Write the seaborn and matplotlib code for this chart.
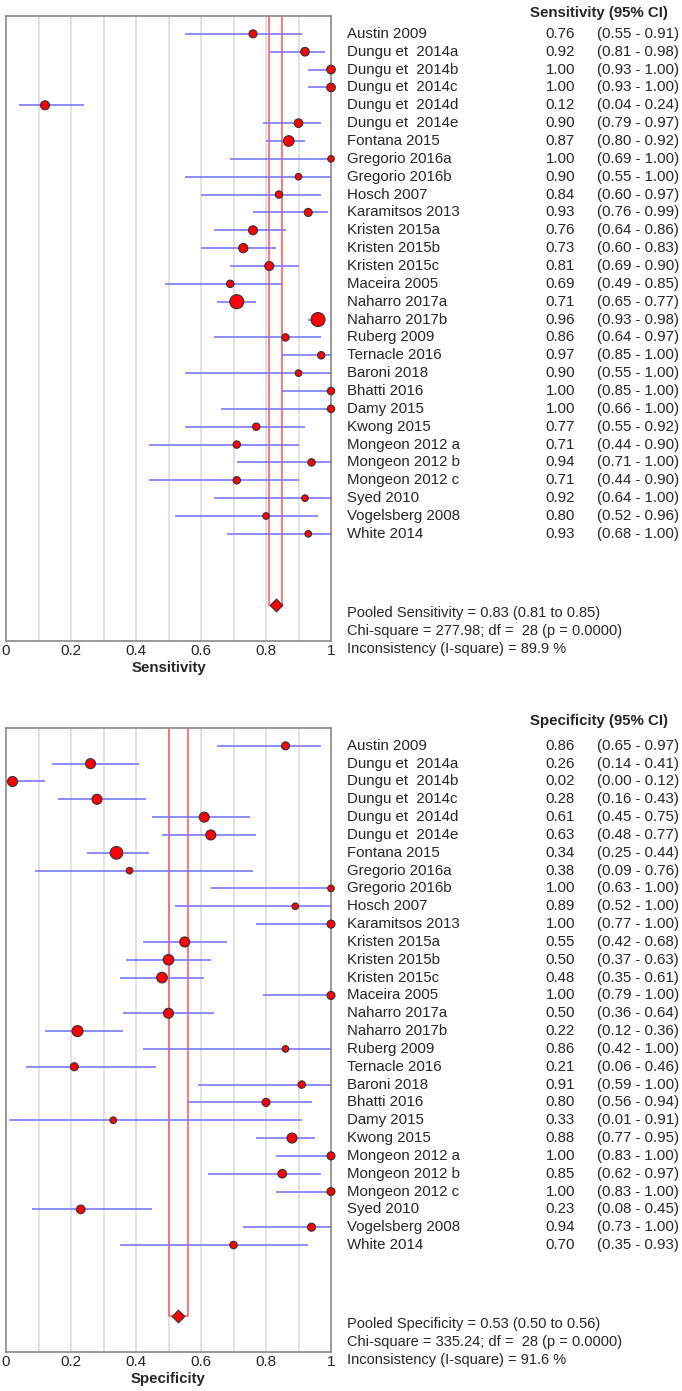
import numpy as np
import pandas as pd
import matplotlib
matplotlib.use("Agg")
import matplotlib.pyplot as plt
import matplotlib.transforms as mtransforms
import seaborn as sns

studies = ["Austin 2009", "Dungu et  2014a", "Dungu et  2014b", "Dungu et  2014c",
           "Dungu et  2014d", "Dungu et  2014e", "Fontana 2015", "Gregorio 2016a",
           "Gregorio 2016b", "Hosch 2007", "Karamitsos 2013", "Kristen 2015a",
           "Kristen 2015b", "Kristen 2015c", "Maceira 2005", "Naharro 2017a",
           "Naharro 2017b", "Ruberg 2009", "Ternacle 2016", "Baroni 2018",
           "Bhatti 2016", "Damy 2015", "Kwong 2015", "Mongeon 2012 a",
           "Mongeon 2012 b", "Mongeon 2012 c", "Syed 2010", "Vogelsberg 2008",
           "White 2014"]

sens = [0.76, 0.92, 1.00, 1.00, 0.12, 0.90, 0.87, 1.00, 0.90, 0.84, 0.93, 0.76, 0.73,
        0.81, 0.69, 0.71, 0.96, 0.86, 0.97, 0.90, 1.00, 1.00, 0.77, 0.71, 0.94, 0.71,
        0.92, 0.80, 0.93]
sens_lo = [0.55, 0.81, 0.93, 0.93, 0.04, 0.79, 0.80, 0.69, 0.55, 0.60, 0.76, 0.64, 0.60,
           0.69, 0.49, 0.65, 0.93, 0.64, 0.85, 0.55, 0.85, 0.66, 0.55, 0.44, 0.71, 0.44,
           0.64, 0.52, 0.68]
sens_hi = [0.91, 0.98, 1.00, 1.00, 0.24, 0.97, 0.92, 1.00, 1.00, 0.97, 0.99, 0.86, 0.83,
           0.90, 0.85, 0.77, 0.98, 0.97, 1.00, 1.00, 1.00, 1.00, 0.92, 0.90, 1.00, 0.90,
           1.00, 0.96, 1.00]
sens_w = [4.0, 4.3, 4.3, 4.3, 4.5, 4.3, 5.3, 3.3, 3.3, 3.7, 4.0, 4.5, 4.6, 4.5, 3.7, 7.0,
          7.0, 3.7, 3.7, 3.3, 3.7, 3.7, 3.7, 3.7, 3.7, 3.7, 3.3, 3.3, 3.3]

spec = [0.86, 0.26, 0.02, 0.28, 0.61, 0.63, 0.34, 0.38, 1.00, 0.89, 1.00, 0.55, 0.50,
        0.48, 1.00, 0.50, 0.22, 0.86, 0.21, 0.91, 0.80, 0.33, 0.88, 1.00, 0.85, 1.00,
        0.23, 0.94, 0.70]
spec_lo = [0.65, 0.14, 0.00, 0.16, 0.45, 0.48, 0.25, 0.09, 0.63, 0.52, 0.77, 0.42, 0.37,
           0.35, 0.79, 0.36, 0.12, 0.42, 0.06, 0.59, 0.56, 0.01, 0.77, 0.83, 0.62, 0.83,
           0.08, 0.73, 0.35]
spec_hi = [0.97, 0.41, 0.12, 0.43, 0.75, 0.77, 0.44, 0.76, 1.00, 1.00, 1.00, 0.68, 0.63,
           0.61, 1.00, 0.64, 0.36, 1.00, 0.46, 1.00, 0.94, 0.91, 0.95, 1.00, 0.97, 1.00,
           0.45, 1.00, 0.93]
spec_w = [4.0, 5.0, 5.0, 5.0, 5.0, 5.0, 6.3, 3.3, 3.3, 3.3, 4.0, 5.0, 5.3, 5.3, 4.0, 5.0,
          5.5, 3.3, 4.0, 3.7, 4.0, 3.3, 5.0, 4.0, 4.3, 4.0, 4.3, 4.0, 3.7]

pooled_sens = [0.83, 0.81, 0.85]
pooled_spec = [0.53, 0.50, 0.56]
stats_sens = ["Pooled Sensitivity = 0.83 (0.81 to 0.85)",
              "Chi-square = 277.98; df =  28 (p = 0.0000)",
              "Inconsistency (I-square) = 89.9 %"]
stats_spec = ["Pooled Specificity = 0.53 (0.50 to 0.56)",
              "Chi-square = 335.24; df =  28 (p = 0.0000)",
              "Inconsistency (I-square) = 91.6 %"]

sns.set_theme(style="white")
plt.rcParams['font.family'] = ['Liberation Sans', 'DejaVu Sans']

W, H = 682, 1391
fig = plt.figure(figsize=(W / 100, H / 100), dpi=100)
ax1 = fig.add_axes([6 / W, 1 - 641 / H, 325 / W, 625 / H])
ax2 = fig.add_axes([6 / W, 1 - 1352 / H, 325 / W, 624 / H])


def forest(ax, est, lo, hi, wts, pooled, name, stats, head_y):
    df = pd.DataFrame({"study": studies, "est": est, "lo": lo, "hi": hi,
                       "row": np.arange(len(studies)),
                       "s": [(1.44 * w) ** 2 for w in wts]})
    for g in np.arange(0.1, 1.0, 0.1):
        ax.axvline(g, color="#dddddd", lw=1.2, zorder=0)
    ax.hlines(df["row"], df["lo"], df["hi"], color="#7777ff", lw=1.4, alpha=0.85, zorder=2)
    sizes = {v: v for v in df["s"].unique()}
    sns.scatterplot(data=df, x="est", y="row", size="s", sizes=sizes, color="red",
                    edgecolor="#333333", linewidth=0.8, legend=False, ax=ax, zorder=3,
                    clip_on=False)
    prow = len(studies) + 3
    ax.plot([pooled[1], pooled[1], pooled[2], pooled[2]], [-1, prow, prow, -1],
            color="#ff5555", lw=1.1, zorder=1)
    ax.scatter([pooled[0]], [prow], marker="D", s=42, color="red",
               edgecolor="#333333", linewidth=0.8, zorder=4)
    ax.set_xlim(0, 1)
    ax.set_ylim(len(studies) + 5, -1)
    ax.set_yticks([])
    ax.set_xticks([0, 0.2, 0.4, 0.6, 0.8, 1.0])
    ax.set_xticklabels(["0", "0.2", "0.4", "0.6", "0.8", "1"], fontsize=11)
    ax.tick_params(axis="x", length=0, pad=2)
    ax.set_xlabel(name, fontsize=10.8, fontweight="bold", labelpad=2)
    ax.set_ylabel("")
    for sp in ax.spines.values():
        sp.set_color("#888888")
        sp.set_linewidth(1.2)

    tr = mtransforms.blended_transform_factory(fig.transFigure, ax.transData)
    for i, row in df.iterrows():
        ax.text(347 / W, row["row"], row["study"], transform=tr, fontsize=10.8,
                va="center", ha="left")
        ax.text(575 / W, row["row"], f"{row['est']:.2f}", transform=tr, fontsize=10.8,
                va="center", ha="right")
        ax.text(597 / W, row["row"], f"({row['lo']:.2f} - {row['hi']:.2f})", transform=tr,
                fontsize=10.8, va="center", ha="left")
    ax.text(668 / W, head_y, f"{name} (95% CI)", transform=tr, fontsize=10.8,
            fontweight="bold", va="center", ha="right")
    for k, line in enumerate(stats):
        ax.text(347 / W, prow + 0.45 + k, line, transform=tr, fontsize=10.5,
                va="center", ha="left")


forest(ax1, sens, sens_lo, sens_hi, sens_w, pooled_sens, "Sensitivity", stats_sens, -1.15)
forest(ax2, spec, spec_lo, spec_hi, spec_w, pooled_spec, "Specificity", stats_spec, -1.4)

fig.savefig("out.png", dpi=100)
